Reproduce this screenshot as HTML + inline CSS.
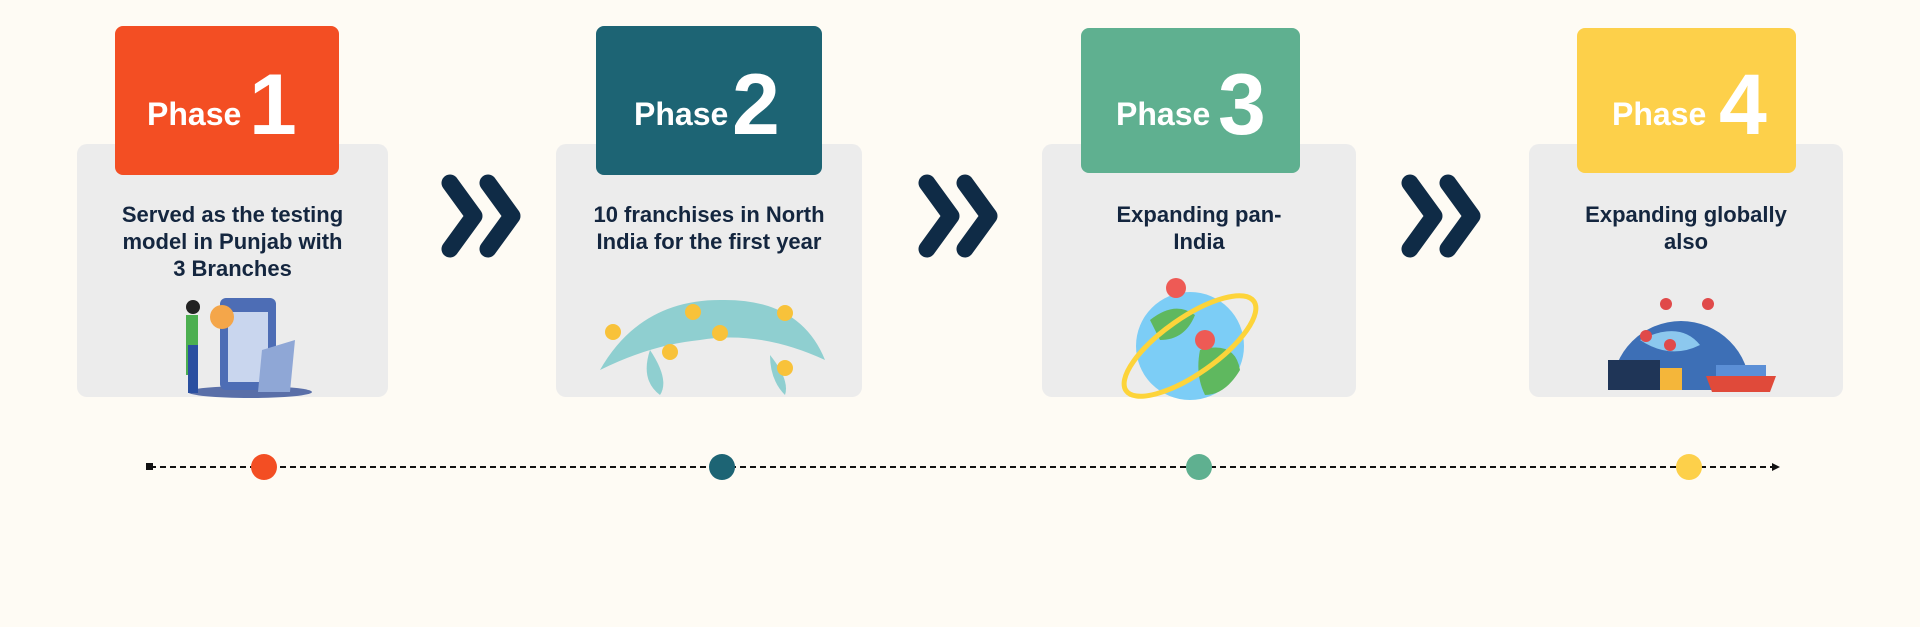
<!DOCTYPE html>
<html><head><meta charset="utf-8">
<style>
body{margin:0;width:1920px;height:627px;background:#fefbf4;position:relative;overflow:hidden;font-family:"Liberation Sans",sans-serif;}
.card{position:absolute;top:144px;height:253px;background:#ececec;border-radius:10px;}
.ph{position:absolute;border-radius:8px;color:#fff;font-weight:bold;}
.ph .t{position:absolute;font-size:32px;line-height:1;}
.ph .n{position:absolute;font-size:86px;line-height:1;}
.txt{position:absolute;top:201px;text-align:center;color:#14263f;font-weight:bold;font-size:22px;line-height:27px;}
.dot{position:absolute;top:454px;width:26px;height:26px;border-radius:50%;}
</style></head><body>
<div class="card" style="left:77px;width:311px"></div>
<div class="card" style="left:556px;width:306px"></div>
<div class="card" style="left:1042px;width:314px"></div>
<div class="card" style="left:1529px;width:314px"></div>

<div class="ph" style="left:115px;top:26px;width:224px;height:149px;background:#f34e23"><span class="t" style="left:32px;top:72px">Phase</span><span class="n" style="left:134px;top:36px">1</span></div>
<div class="ph" style="left:596px;top:26px;width:226px;height:149px;background:#1d6474"><span class="t" style="left:38px;top:72px">Phase</span><span class="n" style="left:136px;top:36px">2</span></div>
<div class="ph" style="left:1081px;top:28px;width:219px;height:145px;background:#5fb090"><span class="t" style="left:35px;top:70px">Phase</span><span class="n" style="left:137px;top:34px">3</span></div>
<div class="ph" style="left:1577px;top:28px;width:219px;height:145px;background:#fdd04a"><span class="t" style="left:35px;top:70px">Phase</span><span class="n" style="left:142px;top:34px">4</span></div>

<div class="txt" style="left:77px;width:311px">Served as the testing<br>model in Punjab with<br>3 Branches</div>
<div class="txt" style="left:556px;width:306px">10 franchises in North<br>India for the first year</div>
<div class="txt" style="left:1042px;width:314px">Expanding pan-<br>India</div>
<div class="txt" style="left:1529px;width:314px">Expanding globally<br>also</div>

<svg width="1920" height="627" style="position:absolute;left:0;top:0">
<g stroke="#0f2b46" stroke-width="17" stroke-linecap="round" stroke-linejoin="round" fill="none">
<polyline points="450,183 474,216 450,249"/><polyline points="488,183 512,216 488,249"/>
<polyline points="927,183 951,216 927,249"/><polyline points="965,183 989,216 965,249"/>
<polyline points="1410,183 1434,216 1410,249"/><polyline points="1448,183 1472,216 1448,249"/>
</g>
<line x1="150" y1="467" x2="1772" y2="467" stroke="#111" stroke-width="2" stroke-dasharray="6,4"/>
<rect x="146" y="463" width="7" height="7" fill="#111"/>
<polygon points="1780,467 1772,463 1772,471" fill="#111"/>
<ellipse cx="250" cy="392" rx="62" ry="6" fill="#5a6fa8"/>
<rect x="220" y="298" width="56" height="92" rx="6" fill="#4d6db5"/>
<rect x="228" y="312" width="40" height="70" fill="#c9d6ee"/>
<circle cx="222" cy="317" r="12" fill="#f4a64a"/>
<rect x="186" y="315" width="12" height="60" fill="#4caf50"/>
<rect x="188" y="345" width="10" height="48" fill="#2a4fa0"/>
<circle cx="193" cy="307" r="7" fill="#222"/>
<polygon points="262,350 295,340 290,392 258,392" fill="#8fa7d6"/>
<path d="M600,370 Q640,300 720,300 Q800,298 825,360 Q760,330 700,340 Q650,345 600,370Z" fill="#8fcfd0"/>
<path d="M650,350 Q670,380 660,395 Q640,380 650,350Z" fill="#8fcfd0"/>
<path d="M770,355 Q790,380 785,395 Q770,380 770,355Z" fill="#8fcfd0"/>
<g fill="#f8c23a"><circle cx="613" cy="332" r="8"/><circle cx="693" cy="312" r="8"/><circle cx="785" cy="313" r="8"/><circle cx="720" cy="333" r="8"/><circle cx="670" cy="352" r="8"/><circle cx="785" cy="368" r="8"/></g>
<circle cx="1190" cy="346" r="54" fill="#7ccdf6"/>
<path d="M1150,320 Q1175,300 1195,315 Q1185,340 1160,340Z" fill="#5fb85f"/>
<path d="M1200,350 Q1235,340 1240,370 Q1225,395 1205,395 Q1195,375 1200,350Z" fill="#5fb85f"/>
<ellipse cx="1190" cy="346" rx="78" ry="28" fill="none" stroke="#fdd43a" stroke-width="5" transform="rotate(-35 1190 346)"/>
<circle cx="1176" cy="288" r="10" fill="#ee5a55"/><circle cx="1205" cy="340" r="10" fill="#ee5a55"/>
<path d="M1612,390 A68,68 0 0 1 1750,390Z" fill="#3d6fb6"/>
<path d="M1640,340 Q1680,320 1700,345 Q1670,360 1640,340Z" fill="#8cc8ee"/>
<rect x="1608" y="360" width="52" height="30" fill="#1f3557"/>
<rect x="1660" y="368" width="22" height="22" fill="#f4b63a"/>
<polygon points="1706,376 1776,376 1770,392 1712,392" fill="#e04a3a"/>
<rect x="1716" y="365" width="50" height="11" fill="#5b8fd6"/>
<g fill="#e04a4a"><circle cx="1666" cy="304" r="6"/><circle cx="1708" cy="304" r="6"/><circle cx="1646" cy="336" r="6"/><circle cx="1670" cy="345" r="6"/></g>
</svg>
<div class="dot" style="left:251px;background:#f34e23"></div>
<div class="dot" style="left:709px;background:#1d6474"></div>
<div class="dot" style="left:1186px;background:#5fb090"></div>
<div class="dot" style="left:1676px;background:#fdd04a"></div>
</body></html>
